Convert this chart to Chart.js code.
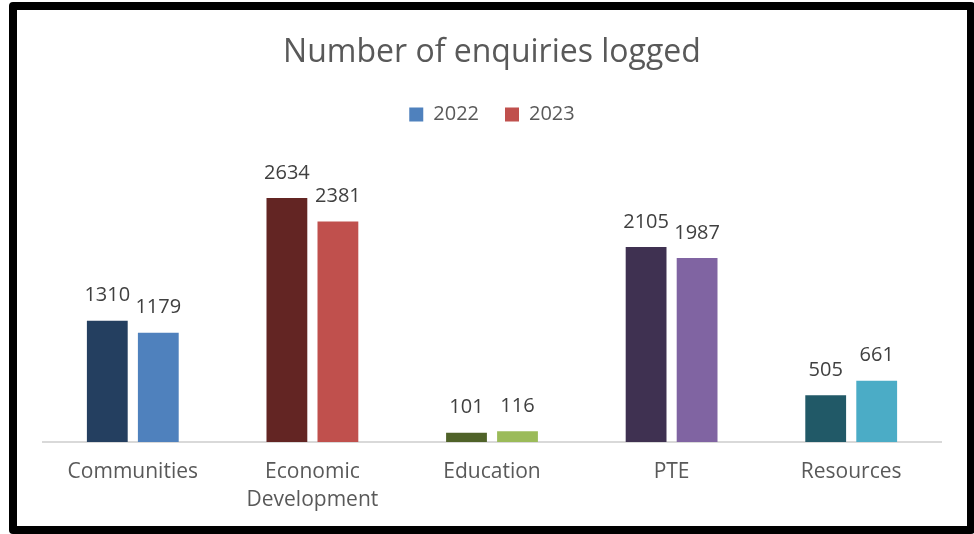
<!DOCTYPE html>
<html>
<head>
<meta charset="utf-8">
<script src="https://cdn.jsdelivr.net/npm/chart.js@4.4.0/dist/chart.umd.min.js"></script>
<style>
    html, body { margin: 0; padding: 0; background: #ffffff; }
    .frame {
        position: absolute;
        left: 9px; top: 2px;
        width: 950px; height: 516px;
        border: 8px solid #000000;
        border-radius: 4px;
        background: #ffffff;
    }
    .frame canvas { display: block; }
</style>
</head>
<body>
<div class="frame">
    <canvas id="enquiriesChart" width="950" height="516"></canvas>
</div>
<script>
// Chart data
const categories = [['Communities'], ['Economic', 'Development'], ['Education'], ['PTE'], ['Resources']];
const seriesNames = ['2022', '2023'];
const values2022 = [1310, 2634, 101, 2105, 505];
const values2023 = [1179, 2381, 116, 1987, 661];

// Each category has its own dark / light pair
const colors2022 = ['#243F60', '#632523', '#4F6228', '#3F3151', '#215967'];
const colors2023 = ['#4F81BD', '#C0504D', '#9BBB59', '#8064A2', '#4BACC6'];
const legendColors = ['#4F81BD', '#C0504D'];

const fontFamily = "'Open Sans', 'Noto Sans', sans-serif";

// Draw the value above each bar
const valueLabels = {
    id: 'valueLabels',
    afterDatasetsDraw(chart) {
        const ctx = chart.ctx;
        ctx.save();
        ctx.font = '20px ' + fontFamily;
        ctx.fillStyle = '#404040';
        ctx.textAlign = 'center';
        ctx.textBaseline = 'middle';
        chart.data.datasets.forEach((ds, i) => {
            chart.getDatasetMeta(i).data.forEach((bar, j) => {
                ctx.fillText(ds.data[j], bar.x, bar.y - 25);
            });
        });
        ctx.restore();
    }
};

const ctx = document.getElementById('enquiriesChart').getContext('2d');
new Chart(ctx, {
    type: 'bar',
    data: {
        labels: categories,
        datasets: [{
            label: seriesNames[0],
            data: values2022,
            backgroundColor: colors2022
        }, {
            label: seriesNames[1],
            data: values2023,
            backgroundColor: colors2023
        }]
    },
    options: {
        responsive: false,
        animation: false,
        categoryPercentage: 0.568,
        barPercentage: 0.8,
        layout: {
            padding: { left: 26, right: 26, top: 24, bottom: 4 }
        },
        plugins: {
            title: {
                display: true,
                text: 'Number of enquiries logged',
                color: '#595959',
                font: { size: 32, family: fontFamily, weight: 'normal' },
                padding: { top: 0, bottom: 6 }
            },
            legend: {
                display: true,
                labels: {
                    color: '#595959',
                    font: { size: 20, family: fontFamily },
                    boxWidth: 14,
                    boxHeight: 14,
                    padding: 26,
                    generateLabels: chart => seriesNames.map((name, i) => ({
                        text: name,
                        fillStyle: legendColors[i],
                        strokeStyle: legendColors[i],
                        fontColor: '#595959',
                        lineWidth: 0,
                        datasetIndex: i
                    }))
                }
            },
            tooltip: { enabled: false }
        },
        scales: {
            x: {
                grid: { display: false },
                border: { display: true, color: '#D9D9D9', width: 2 },
                ticks: {
                    color: '#595959',
                    font: { size: 21, family: fontFamily, lineHeight: 1.38 },
                    maxRotation: 0,
                    padding: 7
                }
            },
            y: {
                display: false,
                min: 0,
                max: 3320
            }
        }
    },
    plugins: [valueLabels]
});
</script>
</body>
</html>
